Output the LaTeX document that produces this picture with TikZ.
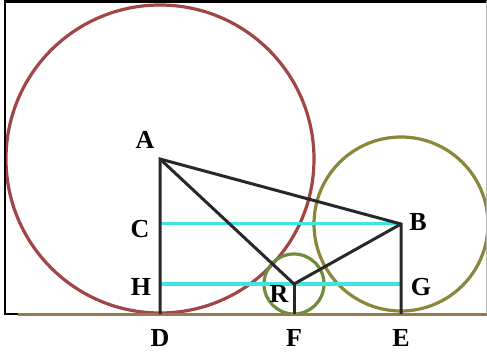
\documentclass[tikz,border=0pt]{standalone}
\usepackage{fontspec}
\setmainfont{Liberation Serif}
\usetikzlibrary{calc}

\definecolor{bigred}{RGB}{160,70,72}
\definecolor{olive2}{RGB}{138,134,58}
\definecolor{smallgreen}{RGB}{110,140,60}
\definecolor{tanline}{RGB}{150,122,80}
\definecolor{cyanline}{RGB}{60,230,225}
\definecolor{seg}{RGB}{40,40,40}

\begin{document}
\begin{tikzpicture}[
  x=1pt, y=-1pt,
  circ/.style={line width=3.2pt},
  seg/.style={draw=seg, line width=3pt},
  level/.style={draw=cyanline, line width=3pt},
  lbl/.style={font=\fontsize{26}{26}\selectfont\bfseries, inner sep=0pt}
]

\useasboundingbox (0,0) rectangle (487,355);

% ============================================================
% points
% ============================================================

\coordinate (A) at (160,159);
\coordinate (B) at (401,224);
\coordinate (C) at (160,224);
\coordinate (H) at (160,284);
\coordinate (G) at (401,284);
\coordinate (R) at (294,284);
\coordinate (D) at (160,314);
\coordinate (F) at (294,314);
\coordinate (E) at (401,314);

% ============================================================
% circles
% ============================================================

\draw[circ, bigred] (A) circle[radius=154];
\draw[circ, olive2] (B) circle[radius=87];
\draw[circ, smallgreen] (R) circle[radius=30];

% ============================================================
% frame and ground line
% ============================================================

\coordinate (tl) at (5,1.5);
\coordinate (tr) at (487,1.5);
\coordinate (bl) at (5,314);
\coordinate (gl) at (18,314);
\coordinate (gr) at (487,314);

\draw[black, line width=2.2pt] (tr) -- (tl) -- (bl) -- (gl);
\draw[gray!60, line width=0.8pt] (486,1) -- (486,314);
\draw[tanline, line width=3pt] (gl) -- (gr);

% ============================================================
% segments
% ============================================================

\draw[level] (C) -- (B);
\draw[level] (H) -- (G);

\draw[seg] (D) -- (A) -- (B) -- (E);
\draw[seg] (A) -- (R) -- (B);
\draw[seg] (R) -- (F);

% ============================================================
% labels
% ============================================================

\node[lbl] (lA) at (145,140) {A};
\node[lbl] (lB) at (418,222) {B};
\node[lbl] (lC) at (140,229) {C};
\node[lbl] (lH) at (141,287) {H};
\node[lbl] (lG) at (421,287) {G};
\node[lbl] (lR) at (279,294) {R};
\node[lbl] (lD) at (160,338) {D};
\node[lbl] (lF) at (294,338) {F};
\node[lbl] (lE) at (401,338) {E};

\end{tikzpicture}
\end{document}
